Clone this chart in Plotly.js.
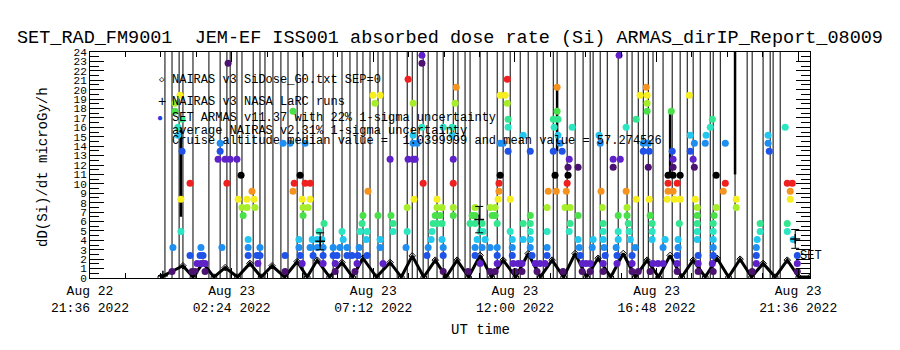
<!DOCTYPE html>
<html><head><meta charset="utf-8">
<script src="https://cdn.plot.ly/plotly-3.0.1.min.js"></script>
<style>html,body{margin:0;padding:0;background:#fff}</style>
</head><body><div id="chart" style="width:900px;height:350px"></div>
<script>
// ---- data (UT hours counted from Aug 22 00:00) ----
const xTickVals = [21.6, 26.4, 31.2, 36.0, 40.8, 45.6];
const xTickText = ["Aug 22<br>21:36 2022", "Aug 23<br>02:24 2022", "Aug 23<br>07:12 2022",
                   "Aug 23<br>12:00 2022", "Aug 23<br>16:48 2022", "Aug 23<br>21:36 2022"];

// NAIRAS v3 SiDose_G0.txt SEP=0 (diamonds)
const nairasT = [24.0, 24.75, 25.09, 25.43, 25.80, 26.18, 26.60, 27.02, 27.40, 27.77, 28.20, 28.62, 28.96, 29.30,
  29.72, 30.14, 30.50, 30.85, 31.31, 31.77, 32.15, 32.52, 32.91, 33.30, 33.67, 34.04, 34.43, 34.82, 35.21, 35.60,
  36.03, 36.45, 36.86, 37.26, 37.65, 38.04, 38.43, 38.82, 39.25, 39.67, 40.08, 40.48, 40.87, 41.26, 41.65, 42.04,
  42.45, 42.85, 43.24, 43.63, 44.02, 44.41, 44.82, 45.23, 45.62, 46.0];
const nairasV = [0.1, 1.3, 0.1, 1.6, 0.1, 1.1, 0.1, 1.55, 0.1, 1.3, 0.1, 1.75, 0.1, 1.9, 0.1, 1.65, 0.1, 2.1, 0.1,
  1.65, 0.1, 2.35, 0.1, 1.9, 0.1, 1.9, 0.1, 2.4, 0.1, 1.9, 0.1, 2.6, 0.1, 1.9, 0.1, 2.6, 0.1, 2.1, 0.1, 2.6, 0.1,
  1.9, 0.1, 2.4, 0.1, 1.9, 0.1, 2.1, 0.1, 2.0, 0.1, 1.55, 0.1, 1.9, 0.1, 0.1];

// NAIRAS v3 NASA LaRC runs (+) with uncertainty
const larcT = [24.07, 29.40, 34.79, 45.50];
const larcV = [0.25, 3.9, 6.2, 4.15];
const larcErr = [0, 0.9, 1.4, 1.0];

// SET ARMAS trace excursions (vertical lines leaving the frame)
const spikeT = [24.14, 24.38, 24.62, 24.75, 25.09, 25.63, 26.01, 26.24, 26.35, 26.58, 26.75, 27.13, 27.36, 27.53,
  27.80, 28.07, 28.31, 28.62, 28.82, 29.16, 29.50, 29.84, 30.14, 30.41, 30.65, 30.85, 31.09, 31.36, 31.53, 31.77,
  32.01, 32.35, 32.52, 32.69, 32.89, 33.06, 33.36, 33.57, 33.91, 34.07, 34.31, 34.48, 34.82, 35.06, 35.40, 35.60,
  35.84, 36.18, 36.45, 36.75, 36.96, 37.30, 37.43, 37.77, 38.04, 38.31, 38.55, 38.65, 38.89, 39.13, 39.50, 39.80,
  39.97, 40.18, 40.35, 40.52, 40.68, 41.02, 41.33, 41.60, 41.84, 42.04, 42.28, 42.62, 42.72, 42.96, 43.46, 43.87,
  44.04, 44.41, 44.65, 44.75, 44.99];
const spikeLow = 0, spikeHigh = 30;
const thickT = [24.68, 37.43, 41.26, 43.46];
const thickLo = [6.5, 13.5, 11.0, 11.0];
const thickHi = [16.0, 20.2, 17.7, 24.5];

// SET ARMAS dose-rate samples: one list of times per dose level
const levelValues = [0.7, 1.55, 2.4, 3.25, 4.1, 4.95, 5.8, 6.65, 7.5, 8.35, 9.2, 10.05, 10.9, 11.75, 12.6, 13.45,
  14.3, 15.15, 16.0, 16.85, 17.7, 18.55, 19.4, 20.25, 21.1, 21.95, 22.8, 23.65];
const levelTimes = [
  [24.38, 25.06, 25.16, 25.50, 28.21, 29.91, 30.58, 33.57, 34.41, 35.16, 35.33, 36.01, 36.24, 36.75, 37.63, 38.28, 38.55, 38.99, 39.97, 40.18, 40.58, 41.50, 42.21, 42.72, 44.04, 45.57],
  [25.23, 25.36, 25.50, 27.29, 28.79, 29.50, 29.91, 30.65, 31.53, 34.82, 35.40, 35.94, 36.11, 36.24, 36.69, 36.85, 37.02, 38.28, 38.41, 38.55, 38.99, 39.46, 39.97, 40.68, 40.85, 41.02, 41.50, 42.21, 42.69, 44.18, 45.57],
  [24.99, 25.33, 25.43, 26.96, 27.26, 27.36, 28.21, 28.72, 29.16, 29.50, 29.84, 29.97, 30.31, 30.48, 30.68, 30.99, 33.02, 33.57, 34.65, 35.40, 35.91, 36.58, 37.09, 38.21, 39.06, 39.46, 39.97, 41.50, 42.21, 42.72, 44.18, 45.57],
  [24.41, 25.36, 26.07, 26.96, 27.36, 28.68, 29.06, 29.30, 29.50, 29.84, 30.07, 30.31, 30.72, 31.43, 32.31, 33.06, 33.57, 34.65, 34.89, 35.16, 35.40, 35.91, 36.52, 37.09, 38.18, 38.62, 39.02, 39.43, 40.08, 41.02, 41.53, 42.72, 44.18],
  [26.96, 28.68, 29.13, 29.30, 29.46, 30.18, 30.96, 31.43, 33.16, 33.53, 34.72, 34.99, 35.91, 36.28, 36.52, 38.14, 38.65, 38.99, 39.50, 39.91, 40.65, 41.09, 41.53, 42.18, 42.72, 44.21, 45.43],
  [24.68, 29.36, 30.14, 30.75, 30.99, 31.87, 32.35, 33.19, 34.82, 34.92, 35.84, 36.52, 37.09, 37.84, 38.99, 39.50, 39.87, 40.65, 42.18, 42.72, 44.31, 45.23],
  [29.53, 30.82, 31.87, 33.23, 33.36, 33.53, 34.48, 34.65, 34.89, 35.40, 36.28, 36.52, 37.87, 38.99, 39.84, 40.65, 41.57, 42.18, 42.72, 44.31, 45.23],
  [26.79, 28.82, 30.85, 31.36, 31.80, 33.30, 33.46, 33.91, 34.55, 34.65, 35.23, 35.33, 36.52, 38.14, 39.50, 39.80, 40.58, 42.18, 42.75],
  [26.75, 26.92, 27.19, 28.82, 28.99, 32.35, 33.36, 33.53, 33.91, 34.65, 35.16, 35.33, 37.09, 37.70, 37.87, 38.96, 39.80, 42.18, 42.82, 43.50],
  [24.68, 26.62, 26.92, 27.16, 28.79, 29.06, 32.58, 33.36, 35.43, 35.84, 40.11, 40.55, 41.16, 41.40, 41.60, 42.11, 43.50, 45.33],
  [27.09, 28.48, 31.02, 35.46, 37.13, 37.40, 37.74, 38.92, 39.77, 41.19, 41.36, 43.06, 45.33],
  [24.99, 26.24, 28.52, 28.89, 29.06, 32.89, 33.91, 35.46, 37.77, 41.19, 41.50, 43.13, 45.23, 45.40],
  [26.72, 28.72, 35.50, 37.36, 37.80, 41.19, 41.36, 41.60, 42.82],
  [37.80, 38.14, 39.33, 40.52, 41.36, 42.08],
  [25.94, 26.18, 26.35, 26.58, 31.77, 32.38, 32.55, 32.62, 33.91, 37.84, 39.33, 39.57, 41.36, 42.04],
  [24.72, 26.01, 35.77, 36.52, 37.30, 37.60, 40.35, 40.55, 41.33, 41.94, 44.62],
  [26.01, 28.14, 28.38, 28.89, 32.55, 32.69, 35.50, 35.60, 37.53, 38.89, 40.35, 40.52, 42.08, 42.45, 43.13, 44.58],
  [24.58, 32.55, 33.87, 36.28, 37.46, 38.85, 41.94, 42.48, 44.58],
  [24.58, 32.85, 33.57, 33.87, 35.77, 37.33, 37.94, 39.77, 42.62, 45.16],
  [24.72, 35.77, 37.30, 37.46, 40.11, 42.69],
  [24.48, 28.48, 37.43, 40.48, 41.30],
  [24.48, 31.26, 32.55, 33.97, 35.74, 40.48],
  [24.65, 31.19, 31.43, 35.50, 35.67, 40.24, 40.48, 41.91],
  [34.01, 37.43, 40.45],
  [32.38, 35.74],
  [],
  [26.28, 32.85],
  [32.85, 39.53]
];

// ---- styling ----
const palette = ['#4c1272', '#5e22c8', '#1f52e6', '#1e8ef0', '#22c6ee', '#2ce6c2', '#34e690', '#4ae04a',
                 '#a6ee2a', '#f6ee1e', '#f6921e', '#ee2020', '#000000'];
const MONO = '"Liberation Mono", "DejaVu Sans Mono", monospace';

const dotX = [], dotY = [], dotC = [];
levelValues.forEach((v, k) => {
  levelTimes[k].forEach(t => { dotX.push(t); dotY.push(v); dotC.push(palette[k % palette.length]); });
});

const spX = [], spY = [];
spikeT.forEach(t => { spX.push(t, t, null); spY.push(spikeLow, spikeHigh, null); });
const thX = [], thY = [];
thickT.forEach((t, i) => { thX.push(t, t, null); thY.push(thickLo[i], thickHi[i], null); });

const traces = [
  {x: spX, y: spY, mode: 'lines', line: {color: '#000', width: 1}, hoverinfo: 'skip'},
  {x: thX, y: thY, mode: 'lines', line: {color: '#000', width: 2.5}, hoverinfo: 'skip'},
  {x: nairasT, y: nairasV, mode: 'lines+markers', line: {color: '#000', width: 3},
   marker: {symbol: 'diamond-open', size: 5, color: '#000', line: {width: 1}}},
  {x: dotX, y: dotY, mode: 'markers', marker: {symbol: 'circle', size: 7, color: dotC, line: {width: 0}}},
  {x: larcT, y: larcV, mode: 'markers', marker: {symbol: 'cross-thin-open', size: 7, color: '#000', line: {width: 1.5, color: '#000'}},
   error_y: {type: 'data', array: larcErr, visible: true, color: '#000', thickness: 1, width: 4}}
];

// legend / text placed in the frame (paper coordinates)
function px2x(p) { return (p - 90) / 720; }
function py2y(p) { return (278 - p) / 226; }
const txt = (x, y, s, extra) => Object.assign({xref: 'paper', yref: 'paper', x: px2x(x), y: py2y(y), text: s,
  showarrow: false, xanchor: 'left', yanchor: 'middle', font: {family: MONO, size: 12, color: '#000'}}, extra || {});

const annotations = [
  txt(157, 80, '◇', {font: {family: MONO, size: 9, color: '#000'}}),
  txt(170, 80, 'NAIRAS v3 SiDose_G0.txt SEP=0'),
  txt(156, 102, '+', {font: {family: MONO, size: 14, color: '#000'}}),
  txt(170, 102, 'NAIRAS v3 NASA LaRC runs'),
  txt(155, 118, '●', {font: {family: MONO, size: 10, color: '#1f40e6'}}),
  txt(170, 118, 'SET ARMAS v11.37 with 22% 1-sigma uncertainty'),
  txt(170, 131, 'average NAIRAS v2.31% 1-sigma uncertainty'),
  txt(170, 141, 'Cruise altitude median value =  1.0399999 and mean value = 57.274526'),
  txt(798, 256, 'SET'),
  {xref: 'paper', yref: 'paper', x: px2x(481), y: py2y(330), text: 'UT time', showarrow: false,
   xanchor: 'center', yanchor: 'middle', font: {family: MONO, size: 14, color: '#000'}},
  {xref: 'paper', yref: 'paper', x: px2x(43), y: py2y(167), text: 'dD(Si)/dt microGy/h', showarrow: false,
   textangle: -90, xanchor: 'center', yanchor: 'middle', font: {family: MONO, size: 14, color: '#000'}}
];

const layout = {
  width: 900, height: 350,
  margin: {l: 90, r: 90, t: 52, b: 72, pad: 0},
  paper_bgcolor: '#fff', plot_bgcolor: '#fff',
  showlegend: false,
  title: {text: 'SET_RAD_FM9001  JEM-EF ISS001 absorbed dose rate (Si) ARMAS_dirIP_Report_08009',
          x: 0.5, xanchor: 'center', y: 1 - 37 / 350, yanchor: 'middle',
          font: {family: MONO, size: 18.5, color: '#000'}},
  xaxis: {range: [21.6, 46.0], tickmode: 'array', tickvals: xTickVals, ticktext: xTickText,
          showgrid: false, zeroline: false, showline: true, linecolor: '#000', linewidth: 1, mirror: 'ticks',
          ticks: 'inside', ticklen: 10, tickcolor: '#000', tickfont: {family: MONO, size: 13, color: '#000'},
          minor: {tickmode: 'linear', tick0: 21.6, dtick: 1.2, ticks: 'inside', ticklen: 5, tickcolor: '#000', showgrid: false}},
  yaxis: {range: [0, 24], tickmode: 'linear', tick0: 0, dtick: 1,
          showgrid: false, zeroline: false, showline: true, linecolor: '#000', linewidth: 1, mirror: 'ticks',
          ticks: 'inside', ticklen: 14, tickcolor: '#000', tickfont: {family: MONO, size: 11, color: '#000'},
          minor: {tickmode: 'linear', tick0: 0, dtick: 0.5, ticks: 'inside', ticklen: 9, tickcolor: '#000', showgrid: false}},
  annotations: annotations
};

Plotly.newPlot('chart', traces, layout, {staticPlot: true, displayModeBar: false});
</script></body></html>
